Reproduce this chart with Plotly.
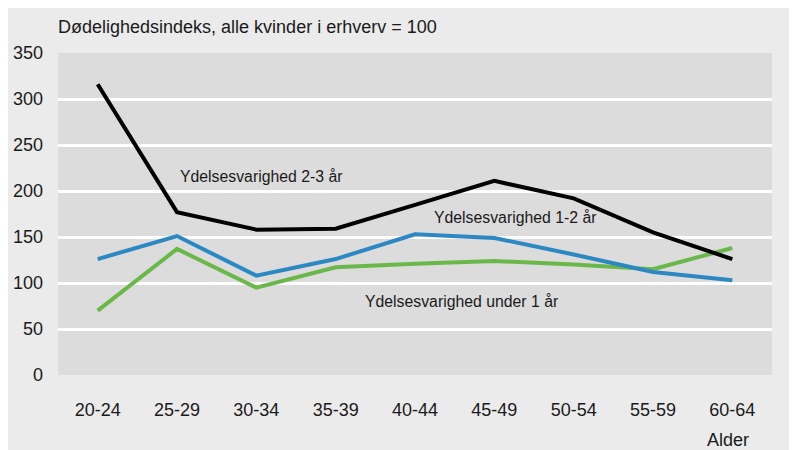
import plotly.graph_objects as go

categories = ["20-24", "25-29", "30-34", "35-39", "40-44", "45-49", "50-54", "55-59", "60-64"]
v_2_3 = [316, 177, 158, 159, 185, 211, 192, 155, 126]
v_1_2 = [126, 151, 108, 126, 153, 149, 131, 112, 103]
v_u1 = [70, 137, 95, 117, 121, 124, 120, 115, 138]
y_ticks = [0, 50, 100, 150, 200, 250, 300, 350]

FONT = "Liberation Sans, Arial, sans-serif"

fig = go.Figure()
fig.add_trace(go.Scatter(x=categories, y=v_u1, mode="lines",
                         line=dict(color="#6ab84a", width=4), name="under 1 år"))
fig.add_trace(go.Scatter(x=categories, y=v_1_2, mode="lines",
                         line=dict(color="#2b88c3", width=4), name="1-2 år"))
fig.add_trace(go.Scatter(x=categories, y=v_2_3, mode="lines",
                         line=dict(color="#000000", width=4), name="2-3 år"))

fig.update_layout(
    width=797, height=450,
    margin=dict(l=50, r=33, t=45, b=83),
    paper_bgcolor="#ebebeb",
    plot_bgcolor="#dcdcdc",
    showlegend=False,
    font=dict(family=FONT, size=18, color="#1a1a1a"),
    xaxis=dict(type="category", range=[-0.5, 8.5], showgrid=False,
               zeroline=False, showline=False, ticks="", automargin=False,
               ticklabelstandoff=22, tickfont=dict(size=18)),
    yaxis=dict(range=[0, 350], tickvals=y_ticks, showgrid=True,
               gridcolor="white", gridwidth=2.5, zeroline=False,
               showline=False, ticks="", ticklabelstandoff=14,
               automargin=False, tickfont=dict(size=18)),
    annotations=[
        dict(text="Dødelighedsindeks, alle kvinder i erhverv = 100",
             xref="paper", yref="paper", x=-0.003, y=1.081,
             xanchor="left", yanchor="middle", showarrow=False,
             font=dict(size=18)),
        dict(text="Ydelsesvarighed 2-3 år", xref="paper", yref="paper",
             x=0.168, y=0.615, xanchor="left", yanchor="middle",
             showarrow=False, font=dict(size=15.8)),
        dict(text="Ydelsesvarighed 1-2 år", xref="paper", yref="paper",
             x=0.524, y=0.488, xanchor="left", yanchor="middle",
             showarrow=False, font=dict(size=15.8)),
        dict(text="Ydelsesvarighed under 1 år", xref="paper", yref="paper",
             x=0.427, y=0.227, xanchor="left", yanchor="middle",
             showarrow=False, font=dict(size=15.8)),
        dict(text="Alder", xref="paper", yref="paper",
             x=0.938, y=-0.203, xanchor="center", yanchor="middle",
             showarrow=False, font=dict(size=18)),
    ],
)

fig.write_html("out.html")
